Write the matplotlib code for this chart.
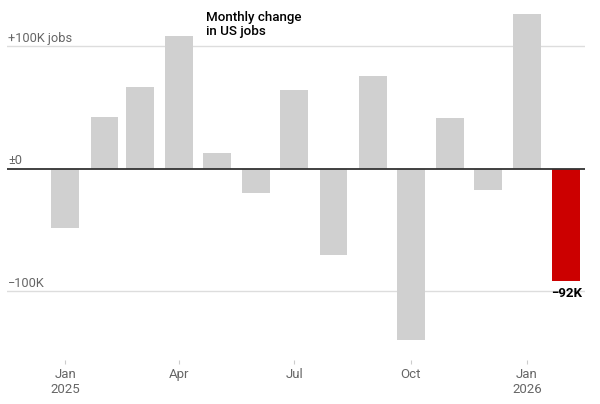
import numpy as np
import matplotlib.pyplot as plt
import matplotlib.dates as mdates

plt.rcParams['font.family'] = ['Roboto', 'DejaVu Sans']

# monthly change in US payrolls, thousands of jobs
months = np.arange('2025-01', '2026-03', dtype='datetime64[M]').astype('datetime64[D]')
change = [-48, 42, 67, 108, 13, -20, 64, -70, 76, -140, 41, -17, 126, -92]

tick_dates = np.array(['2025-01-01', '2025-04-01', '2025-07-01', '2025-10-01', '2026-01-01'],
                      dtype='datetime64[D]')
tick_labels = ['Jan\n2025', 'Apr', 'Jul', 'Oct', 'Jan\n2026']

ylevels = [100, 0, -100]
ylabels = ['+100K jobs', '±0', '−100K']

grey = '#d0d0d0'
red = '#cc0000'

fig = plt.figure(figsize=(6, 4.04), dpi=100)
ax = fig.add_axes([0.0122, 0.109, 0.9628, 0.8786])

x = mdates.date2num(months)
colors = [grey] * (len(change) - 1) + [red]
ax.bar(x, change, width=22, color=colors, zorder=2)

# gridlines and zero line
for lv in [100, -100]:
    ax.axhline(lv, color='#dddddd', lw=1, zorder=1)
ax.axhline(0, color='#333333', lw=1.3, zorder=3)

for lv, lab in zip(ylevels, ylabels):
    ax.annotate(lab, xy=(0, lv), xycoords=('axes fraction', 'data'),
                xytext=(0.5, 3.2), textcoords='offset points',
                ha='left', va='baseline', fontsize=9.2, color='#666666')

ax.annotate('−92K', xy=(x[-1], change[-1]), xytext=(0, -4), textcoords='offset points',
            ha='center', va='top', fontsize=9.5, fontweight='bold', color='black')

fig.text(206 / 600, 1 - 11 / 404, 'Monthly change\nin US jobs', ha='left', va='top',
         fontsize=9.6, fontweight='medium', color='black', linespacing=1.12)

x0 = mdates.date2num(np.datetime64('2025-01-01'))
x1 = mdates.date2num(np.datetime64('2026-01-01'))
ax.set_xlim(x0 - 45.8, x1 + 45.8)
ax.set_ylim(-156, 133.5)

ax.set_xticks(mdates.date2num(tick_dates))
ax.set_xticklabels(tick_labels)
ax.set_yticks([])
ax.tick_params(axis='x', length=3, width=0.8, color='#cccccc', pad=3,
               labelsize=9.5, labelcolor='#666666')
for s in ax.spines.values():
    s.set_visible(False)

fig.savefig('out.png', dpi=100)
